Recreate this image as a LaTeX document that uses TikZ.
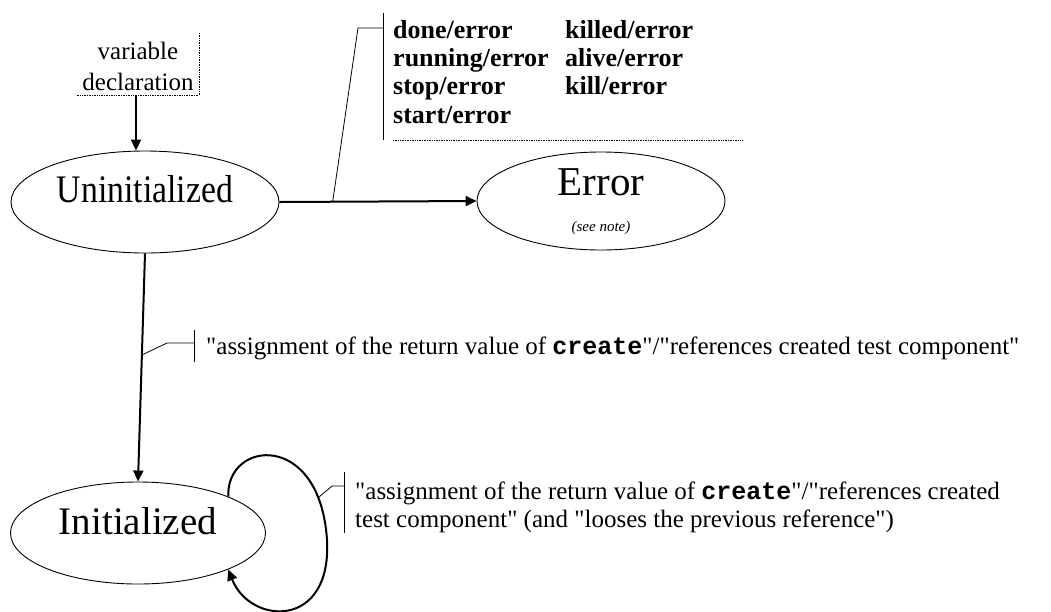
\documentclass[tikz,border=0pt]{standalone}
\usepackage{graphicx}
\usepackage{fontspec}
\setmainfont{Liberation Serif}
\setmonofont{Liberation Mono}
\usetikzlibrary{shapes.geometric,arrows.meta,calc}
\newcommand{\fs}[2]{\fontsize{#1}{#2}\selectfont}
\newcommand{\dq}{\textquotedbl}
\tikzset{
  state/.style={draw,ellipse,line width=0.9pt,inner sep=0pt},
  statetext/.style={inner sep=0pt,font=\fs{39}{39}},
  conn/.style={line width=2pt,-{Triangle[length=11pt,width=10pt]}},
  note/.style={line width=0.8pt},
  notedots/.style={densely dotted,line width=0.7pt},
}

\begin{document}
\begin{tikzpicture}[x=1pt,y=-1pt]
    \useasboundingbox (0,0) rectangle (1051,611);
    % states
    \node[state,minimum width=268pt,minimum height=102pt] (uninit) at (145,202) {};
    \node[statetext,anchor=base] (uninitname) at (145,202) {\scalebox{0.865}[1]{Uninitialized}};
    \node[state,minimum width=248pt,minimum height=98pt] (error) at (601,201) {};
    \node[statetext,anchor=base,font=\fs{41}{41}] (errorname) at (601,195) {Error};
    \node[anchor=base,inner sep=0pt,font=\fs{15}{15}\itshape] (errornote) at (601,231) {(see note)};
    \node[state,minimum width=255pt,minimum height=102pt] (init) at (138,533) {};
    \node[statetext,anchor=base] (initname) at (138,534) {Initialized};
    % variable declaration
    \node[anchor=north,align=center,inner sep=0pt,font=\fs{25}{31}] (vardecl) at (138,42) {variable\\declaration};
    \draw[notedots] (199,33) -- (199,95) -- (77,95);
    \coordinate (vdfoot) at (136,95);
    \draw[conn] (vdfoot) -- (vdfoot |- uninit.north);
    % to error
    \draw[conn] (uninit.east) -- (error.west);
    \coordinate (errfoot) at ($(uninit.east)!0.27!(error.west)$);
    \draw[note] (errfoot) -- (358,28) -- (383,28);
    \draw[note] (383,13) -- (383,140);
    \draw[notedots] (393,140) -- (742,140);
    \node[anchor=north west,align=left,inner sep=0pt,font=\fs{26}{28.3}\bfseries] (errlist) at (393,20) {done/error\\running/error\\stop/error\\start/error};
    \node[anchor=north west,align=left,inner sep=0pt,font=\fs{26}{28.3}\bfseries] (errlisttwo) at (565,20) {killed/error\\alive/error\\kill/error};
    % create
    \draw[conn] (uninit.south) -- (init.north);
    \coordinate (createfoot) at ($(uninit.south)!0.445!(init.north)$);
    \draw[note] (createfoot) -- (167,343) -- (194,343);
    \draw[note] (194,330) -- (194,362);
    \node[anchor=base west,inner sep=0pt,font=\fs{25}{27}] (createlabel) at (206,354) {\dq assignment of the return value of \textbf{\texttt{create}}\dq/\dq references created test component\dq};
    % create again
    \draw[conn] (init.22) .. controls (226,440) and (320,430) .. (327,540) .. controls (332,630) and (250,625) .. (init.-22);
    \coordinate (loopfoot) at (319,497);
    \draw[note] (loopfoot) -- (332,486) -- (344,486);
    \draw[note] (344,472) -- (344,533);
    \node[anchor=north west,align=left,inner sep=0pt,font=\fs{25}{27.5}] (looplabel) at (355,482) {\dq assignment of the return value of \textbf{\texttt{create}}\dq/\dq references created\\test component\dq{} (and \dq looses the previous reference\dq)};
\end{tikzpicture}
\end{document}
